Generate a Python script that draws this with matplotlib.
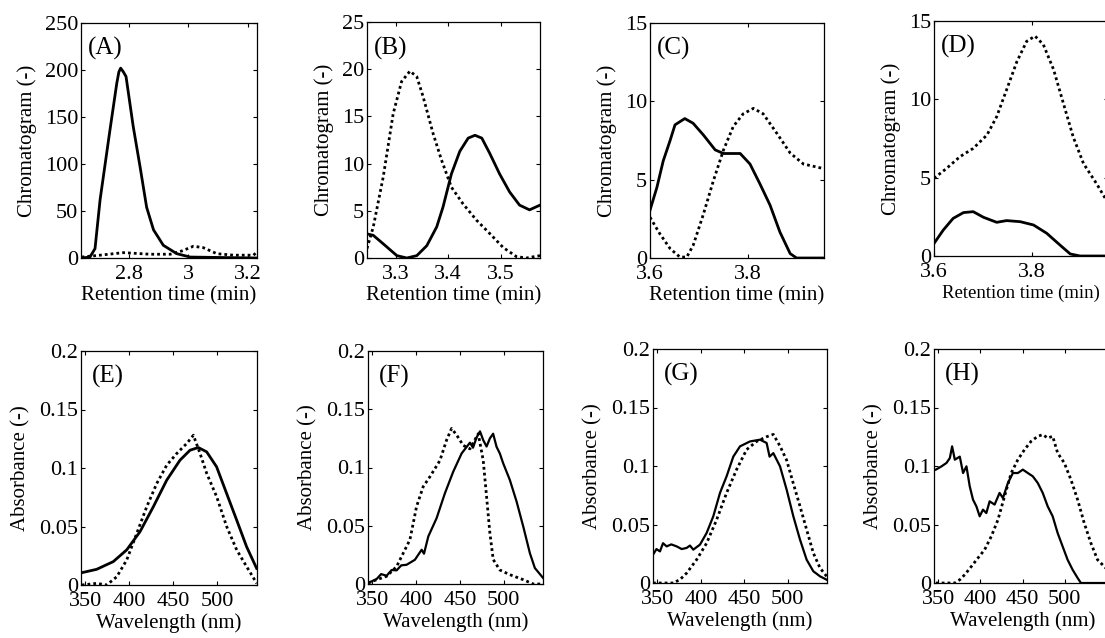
import matplotlib
matplotlib.use("Agg")
import matplotlib.pyplot as plt
from matplotlib.ticker import FormatStrFormatter

plt.rcParams["font.family"] = ["Liberation Serif", "DejaVu Serif"]
plt.rcParams["font.size"] = 15

# ---- chromatograms (retention time in min) ----
a_t_solid = [2.642, 2.670, 2.687, 2.704, 2.737, 2.760, 2.767, 2.773, 2.782, 2.791,
             2.815, 2.838, 2.860, 2.883, 2.916, 2.961, 3.006, 3.229]
a_y_solid = [0, 1, 10, 62, 136, 186, 198, 202, 198, 193, 140, 97, 54, 30, 13.5, 4.6, 1, 0]
a_t_dot = [2.642, 2.704, 2.782, 2.872, 2.939, 2.978, 3.017, 3.050, 3.095, 3.151, 3.218, 3.229]
a_y_dot = [1, 3, 5.7, 4, 4, 7.5, 12.5, 11, 4.6, 3, 3, 6]

b_t_solid = [3.245, 3.257, 3.276, 3.302, 3.321, 3.340, 3.359, 3.378, 3.390, 3.406, 3.422,
             3.438, 3.451, 3.464, 3.479, 3.498, 3.517, 3.536, 3.555, 3.575]
b_y_solid = [2.56, 2.4, 1.5, 0.25, 0, 0.25, 1.3, 3.3, 5.4, 8.9, 11.3,
             12.7, 13.0, 12.7, 11.1, 8.9, 7.0, 5.6, 5.1, 5.6]
b_t_dot = [3.245, 3.257, 3.276, 3.295, 3.311, 3.327, 3.340, 3.352, 3.371, 3.387, 3.406,
           3.428, 3.454, 3.479, 3.505, 3.530, 3.549, 3.575]
b_y_dot = [1.0, 3.3, 8.6, 15.3, 18.7, 19.8, 19.2, 17.1, 13.2, 10.4, 7.5,
           5.75, 4.0, 2.6, 1.1, 0.15, 0, 0.25]

c_t_solid = [3.600, 3.614, 3.627, 3.641, 3.651, 3.671, 3.688, 3.709, 3.733, 3.750, 3.784,
             3.804, 3.824, 3.845, 3.865, 3.886, 3.899, 3.955]
c_y_solid = [3.05, 4.5, 6.2, 7.5, 8.5, 8.9, 8.6, 7.85, 6.9, 6.67, 6.67,
             6.0, 4.75, 3.37, 1.66, 0.28, 0, 0]
c_t_dot = [3.600, 3.620, 3.641, 3.661, 3.675, 3.688, 3.709, 3.729, 3.750, 3.770, 3.790,
           3.811, 3.831, 3.859, 3.886, 3.913, 3.955]
c_y_dot = [2.6, 1.55, 0.6, 0.06, 0.06, 0.8, 2.8, 4.9, 6.9, 8.4, 9.2,
           9.55, 9.2, 7.95, 6.7, 6.0, 5.7]

d_t_solid = [3.600, 3.619, 3.639, 3.660, 3.680, 3.701, 3.728, 3.748, 3.776, 3.803, 3.830,
             3.857, 3.878, 3.898, 3.960]
d_y_solid = [0.8, 1.66, 2.4, 2.77, 2.83, 2.47, 2.15, 2.26, 2.19, 1.98, 1.45,
             0.7, 0.13, 0, 0]
d_t_dot = [3.600, 3.626, 3.653, 3.680, 3.708, 3.728, 3.748, 3.769, 3.789, 3.806, 3.823,
           3.844, 3.864, 3.884, 3.905, 3.932, 3.949, 3.960]
d_y_dot = [4.96, 5.6, 6.34, 6.87, 7.72, 8.9, 10.6, 12.4, 13.7, 14.04, 13.5,
           11.9, 9.74, 7.6, 5.9, 4.6, 3.7, 3.35]

# ---- spectra (wavelength in nm) ----
e_w_solid = [345.8, 362.8, 381.7, 396.9, 412.0, 427.2, 442.4, 457.5, 468.9, 478.3,
             487.8, 499.1, 510.5, 521.9, 533.2, 544.6]
e_a_solid = [0.0105, 0.0134, 0.020, 0.030, 0.0455, 0.0669, 0.0896, 0.1067, 0.1152, 0.1175,
             0.1138, 0.101, 0.0782, 0.0555, 0.0327, 0.0142]
e_w_dot = [345.8, 362.8, 374.2, 385.6, 396.9, 408.3, 419.7, 431.1, 442.4, 453.8, 465.2,
           472.7, 480.3, 487.9, 499.2, 510.6, 522.0, 533.3, 544.7]
e_a_dot = [0, 0.0014, 0, 0.007, 0.0213, 0.044, 0.0669, 0.0868, 0.1024, 0.1124, 0.121,
           0.128, 0.1124, 0.0953, 0.0754, 0.0498, 0.0299, 0.0156, 0.0014]

f_w_solid = [345.3, 354.9, 360.0, 366.3, 372.0, 377.7, 383.0, 389.1, 398.6, 406.3, 409.0,
             413.9, 423.4, 432.9, 442.4, 452.0, 461.5, 465.0, 469.1, 473.0, 476.7, 480.5,
             484.3, 488.0, 491.9, 495.7, 499.5, 507.1, 514.8, 522.4, 530.0, 535.7, 545.2]
f_a_solid = [0.0009, 0.0043, 0.0085, 0.0071, 0.012, 0.0117, 0.016, 0.0165, 0.0208, 0.0294,
             0.026, 0.0408, 0.0565, 0.0779, 0.0964, 0.1121, 0.1213, 0.117, 0.1258, 0.131,
             0.1235, 0.118, 0.125, 0.129, 0.1178, 0.112, 0.1036, 0.0893, 0.0708, 0.0494,
             0.0265, 0.0137, 0.0051]
f_w_dot = [345.3, 354.9, 366.3, 377.7, 392.9, 400.5, 408.1, 415.7, 427.2, 434.8, 440.5,
           446.2, 453.8, 461.5, 471.0, 476.7, 480.5, 484.3, 488.1, 495.7, 507.1, 522.4,
           533.8, 543.3]
f_a_dot = [0.0009, 0.0037, 0.0066, 0.015, 0.038, 0.0665, 0.0836, 0.092, 0.106, 0.1235,
           0.1335, 0.128, 0.119, 0.116, 0.129, 0.106, 0.075, 0.0437, 0.021, 0.012,
           0.008, 0.0037, 0, 0]

g_w_solid = [345.0, 349.0, 353.0, 356.5, 360.7, 366.0, 372.2, 378.0, 383.7, 387.5, 391.3,
             399.0, 406.6, 414.3, 422.0, 429.6, 437.3, 445.0, 456.5, 468.0, 475.6, 479.0,
             483.3, 491.0, 498.6, 506.3, 514.0, 521.6, 529.3, 537.0, 544.6]
g_a_solid = [0.0242, 0.029, 0.027, 0.034, 0.0313, 0.033, 0.0313, 0.029, 0.03, 0.032, 0.0285,
             0.0328, 0.0427, 0.057, 0.077, 0.0912, 0.108, 0.1168, 0.121, 0.1225, 0.1197, 0.108,
             0.111, 0.0997, 0.0798, 0.057, 0.037, 0.0199, 0.01, 0.0057, 0.0028]
g_w_dot = [345.0, 356.9, 368.4, 376.1, 383.7, 395.2, 406.6, 418.1, 429.6, 441.1, 452.6,
           464.1, 475.6, 483.3, 491.0, 498.6, 506.3, 514.0, 521.6, 529.3, 537.0, 544.6]
g_a_dot = [0, 0, 0, 0.003, 0.0085, 0.02, 0.034, 0.054, 0.077, 0.097, 0.114,
           0.121, 0.125, 0.127, 0.117, 0.105, 0.085, 0.0655, 0.0456, 0.0256, 0.0128, 0.0057]

h_w_solid = [347.2, 353.9, 359.8, 363.8, 366.5, 369.7, 375.6, 379.5, 383.5, 387.4, 391.3,
             395.3, 399.2, 403.1, 407.1, 411.0, 416.9, 422.8, 426.8, 432.7, 438.6, 444.5,
             450.4, 456.3, 462.2, 468.1, 474.0, 479.9, 485.8, 491.7, 497.6, 503.5, 509.4,
             515.4, 519.3, 560.0]
h_a_solid = [0.0969, 0.0997, 0.1026, 0.1068, 0.1168, 0.1054, 0.108, 0.094, 0.0997, 0.0826,
             0.0712, 0.0655, 0.057, 0.0627, 0.0598, 0.0698, 0.067, 0.077, 0.0726, 0.0855,
             0.094, 0.094, 0.0969, 0.094, 0.0912, 0.0855, 0.077, 0.0655, 0.057, 0.0427,
             0.0313, 0.0199, 0.0114, 0.0043, 0, 0]
h_w_dot = [347.2, 359.8, 369.7, 375.6, 381.5, 389.4, 397.2, 405.1, 413.0, 420.9, 428.7,
           436.6, 444.5, 452.4, 460.2, 468.1, 474.0, 479.9, 485.8, 491.7, 499.6, 507.5,
           515.4, 523.2, 531.1, 539.0, 548.8, 555.0]
h_a_dot = [0, 0, 0, 0.0028, 0.0071, 0.0142, 0.0214, 0.0285, 0.0399, 0.0541, 0.0741,
           0.094, 0.1054, 0.114, 0.1211, 0.1254, 0.1268, 0.1239, 0.1254, 0.1111, 0.1026,
           0.0883, 0.0712, 0.0513, 0.0342, 0.0199, 0.0128, 0.009]

W, H = 1105, 638
fig = plt.figure(figsize=(W / 100, H / 100), dpi=100)


def add_axes(left, top, right, bottom):
    return fig.add_axes([left / W, 1 - bottom / H, (right - left) / W, (bottom - top) / H])


def style(ax, letter, xlim, ylim, xticks, yticks, xlabel, ylabel, lx, ly, xlab_size=15):
    ax.set_xlim(*xlim)
    ax.set_ylim(*ylim)
    ax.set_xticks(xticks)
    ax.set_yticks(yticks)
    ax.xaxis.set_major_formatter(FormatStrFormatter("%g"))
    ax.yaxis.set_major_formatter(FormatStrFormatter("%g"))
    ax.tick_params(direction="in", length=3, width=0.8, top=True, right=True,
                   labelsize=16)
    ax.tick_params(axis="x", pad=5)
    ax.tick_params(axis="y", pad=2)
    for sp in ax.spines.values():
        sp.set_linewidth(0.9)
    ax.set_xlabel(xlabel, fontsize=xlab_size, labelpad=2)
    ax.set_ylabel(ylabel, fontsize=15, labelpad=6)
    ax.text(lx, ly, letter, transform=ax.transAxes, fontsize=18, va="center", ha="left")


solid = dict(color="black", lw=2.0)
dotted = dict(color="black", lw=2.0, linestyle=(0, (1, 1.1)))
noisy = dict(color="black", lw=1.6)

chrom = [
    ("(A)", (81, 23, 257, 258), a_t_solid, a_y_solid, a_t_dot, a_y_dot,
     (2.64, 3.23), (0, 250), [2.8, 3.0, 3.2], [0, 50, 100, 150, 200, 250], 15),
    ("(B)", (367, 22, 540, 258), b_t_solid, b_y_solid, b_t_dot, b_y_dot,
     (3.245, 3.575), (0, 25), [3.3, 3.4, 3.5], [0, 5, 10, 15, 20, 25], 15),
    ("(C)", (650, 23, 824, 258), c_t_solid, c_y_solid, c_t_dot, c_y_dot,
     (3.6, 3.955), (0, 15), [3.6, 3.8], [0, 5, 10, 15], 15),
    ("(D)", (934, 21, 1108, 256), d_t_solid, d_y_solid, d_t_dot, d_y_dot,
     (3.6, 3.955), (0, 15), [3.6, 3.8], [0, 5, 10, 15], 13.5),
]
for letter, box, xs, ys, xd, yd, xlim, ylim, xt, yt, xls in chrom:
    ax = add_axes(*box)
    ax.plot(xs, ys, **solid)
    ax.plot(xd, yd, **dotted)
    style(ax, letter, xlim, ylim, xt, yt, "Retention time (min)", "Chromatogram (-)",
          0.04, 0.89, xls)

spec = [
    ("(E)", (81, 351, 257, 585), e_w_solid, e_a_solid, e_w_dot, e_a_dot, (345, 545), solid),
    ("(F)", (368, 351, 543, 584), f_w_solid, f_a_solid, f_w_dot, f_a_dot, (345, 545), noisy),
    ("(G)", (653, 349, 827, 583), g_w_solid, g_a_solid, g_w_dot, g_a_dot, (345, 545), noisy),
    ("(H)", (934, 349, 1111, 583), h_w_solid, h_a_solid, h_w_dot, h_a_dot, (345, 555), noisy),
]
for letter, box, xs, ys, xd, yd, xlim, sty in spec:
    ax = add_axes(*box)
    ax.plot(xs, ys, **sty)
    ax.plot(xd, yd, **dotted)
    style(ax, letter, xlim, (0, 0.2), [350, 400, 450, 500], [0, 0.05, 0.1, 0.15, 0.2],
          "Wavelength (nm)", "Absorbance (-)", 0.06, 0.89)

fig.savefig("out.png", dpi=100)
